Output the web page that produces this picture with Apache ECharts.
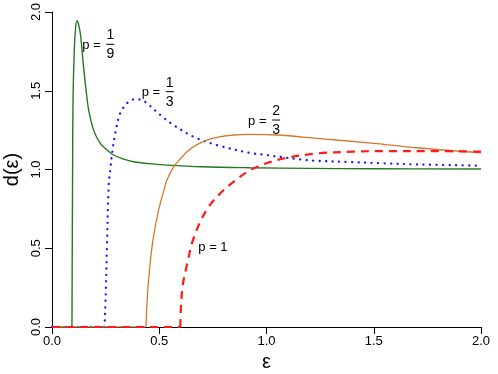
<!DOCTYPE html>
<html lang="en">
<head>
    <meta charset="UTF-8">
    <title>d(eps)</title>
    <script src="https://cdn.jsdelivr.net/npm/echarts@6/dist/echarts.min.js"></script>
    <style>
        html, body { margin: 0; padding: 0; background: #fff; }
        #container { width: 498px; height: 374px; }
    </style>
</head>
<body>
<div id="container"></div>
<script type="text/javascript">
    // curves, [epsilon, d]; each one sits at d = 0 up to its start value
    var start19 = 0.093, start13 = 0.245, start23 = 0.438, start1 = 0.598;
    var p19 = [[0.093, 0], [0.096, 1.0], [0.098, 1.44], [0.104, 1.76], [0.110, 1.90], [0.116, 1.945],
        [0.122, 1.93], [0.132, 1.865], [0.147, 1.653], [0.160, 1.49], [0.171, 1.378], [0.194, 1.25],
        [0.225, 1.166], [0.260, 1.12], [0.287, 1.092], [0.330, 1.068], [0.380, 1.049], [0.450, 1.037],
        [0.536, 1.028], [0.700, 1.017], [0.924, 1.011], [1.2, 1.007], [1.5, 1.005], [2.0, 1.003]];
    var p13 = [[0.245, 0], [0.250, 0.19], [0.256, 0.51], [0.264, 0.89], [0.272, 1.0], [0.280, 1.10],
        [0.295, 1.23], [0.318, 1.357], [0.349, 1.42], [0.375, 1.443], [0.395, 1.447], [0.420, 1.44],
        [0.443, 1.42], [0.505, 1.346], [0.567, 1.282], [0.660, 1.208], [0.769, 1.155], [0.924, 1.105],
        [1.002, 1.092], [1.079, 1.077], [1.157, 1.064], [1.235, 1.055], [1.39, 1.047], [1.545, 1.039],
        [1.70, 1.032], [2.0, 1.024]];
    var p23 = [[0.438, 0], [0.442, 0.127], [0.447, 0.24], [0.453, 0.339], [0.462, 0.46], [0.473, 0.572],
        [0.497, 0.742], [0.520, 0.86], [0.536, 0.933], [0.567, 1.017], [0.600, 1.07], [0.629, 1.113],
        [0.672, 1.155], [0.722, 1.187], [0.780, 1.207], [0.846, 1.219], [0.924, 1.223], [1.048, 1.219],
        [1.235, 1.198], [1.5, 1.166], [1.7, 1.138], [2.0, 1.106]];
    var p1 = [[0.598, 0], [0.602, 0.15], [0.610, 0.27], [0.625, 0.37], [0.637, 0.445], [0.652, 0.53],
        [0.670, 0.60], [0.691, 0.668], [0.730, 0.763], [0.784, 0.848], [0.846, 0.922], [0.924, 0.996],
        [1.0, 1.04], [1.079, 1.07], [1.235, 1.102], [1.4, 1.113], [1.545, 1.117], [1.75, 1.117], [2.0, 1.113]];

    var xTicks = ['0.0', '0.5', '1.0', '1.5', '2.0'];
    var yTicks = ['0.0', '0.5', '1.0', '1.5', '2.0'];

    // curve labels: numerator, denominator (null = plain), anchor in data space
    var labels = [
        {num: '1', den: '9', at: [0.272, 1.795]},
        {num: '1', den: '3', at: [0.549, 1.494]},
        {num: '2', den: '3', at: [1.045, 1.314]},
        {num: '1', den: null, at: [0.682, 0.503]}
    ];

    var font = '"Liberation Sans", Arial, sans-serif';
    var myChart = echarts.init(document.getElementById('container'));

    var styles = [
        {color: '#217a21', type: 'solid', width: 1.4, cap: 'butt'},
        {color: '#1a1aff', type: [0.1, 6.4], width: 2.3, cap: 'round'},
        {color: '#d8772f', type: 'solid', width: 1.3, cap: 'butt'},
        {color: '#ff1a1a', type: [8, 6], width: 2.2, cap: 'butt'}
    ];

    function flat(start, st) {
        return {
            type: 'line', data: [[0, 0], [start, 0]], showSymbol: false, silent: true,
            lineStyle: {color: st.color, type: st.type, width: st.width, cap: st.cap}
        };
    }

    function curve(data, st) {
        return {
            type: 'line', data: data, showSymbol: false, smooth: 0.35,
            lineStyle: {color: st.color, type: st.type, width: st.width, cap: st.cap}
        };
    }

    myChart.setOption({
        animation: false,
        grid: {left: 52, right: 17, top: 12, bottom: 47, outerBoundsMode: 'none', containLabel: false},
        xAxis: {
            type: 'value', min: 0, max: 2, interval: 0.5,
            name: 'ε', nameLocation: 'middle', nameGap: 25,
            nameTextStyle: {fontSize: 20, color: '#000', fontFamily: font},
            axisLine: {onZero: false, lineStyle: {color: '#000', width: 1}},
            axisTick: {length: 7, lineStyle: {color: '#000'}},
            axisLabel: {color: '#000', fontSize: 13, fontFamily: font, margin: 8,
                formatter: function (v) { return xTicks[Math.round(v / 0.5)]; }},
            splitLine: {show: false}
        },
        yAxis: {
            type: 'value', min: 0, max: 2, interval: 0.5,
            name: 'd(ε)', nameLocation: 'middle', nameGap: 30,
            nameTextStyle: {fontSize: 20, color: '#000', fontFamily: font},
            axisLine: {show: true, onZero: false, lineStyle: {color: '#000', width: 1}},
            axisTick: {show: true, length: 7, lineStyle: {color: '#000'}},
            axisLabel: {color: '#000', fontSize: 13, fontFamily: font, rotate: 90, margin: 9,
                formatter: function (v) { return yTicks[Math.round(v / 0.5)]; }},
            splitLine: {show: false}
        },
        series: [
            flat(start19, styles[0]), curve(p19, styles[0]),
            flat(start13, styles[1]), curve(p13, styles[1]),
            flat(start23, styles[2]), curve(p23, styles[2]),
            flat(start1, styles[3]), curve(p1, styles[3])
        ]
    });

    // fraction labels placed through the grid's own scale
    var g = [];
    labels.forEach(function (lb) {
        var c = myChart.convertToPixel({gridIndex: 0}, lb.at);
        if (lb.den === null) {
            g.push({type: 'text', x: c[0], y: c[1], style: {text: 'p = ' + lb.num, font: '13px ' + font,
                fill: '#000', verticalAlign: 'middle', align: 'left'}});
            return;
        }
        g.push({type: 'text', x: c[0] - 6, y: c[1] + 1, style: {text: 'p = ', font: '13px ' + font,
            fill: '#000', verticalAlign: 'middle', align: 'right'}});
        g.push({type: 'line', shape: {x1: c[0] - 4, y1: c[1], x2: c[0] + 4, y2: c[1]},
            style: {stroke: '#000', lineWidth: 1}});
        g.push({type: 'text', x: c[0], y: c[1] - 2, style: {text: lb.num, font: '14px ' + font,
            fill: '#000', verticalAlign: 'bottom', align: 'center'}});
        g.push({type: 'text', x: c[0], y: c[1] + 3, style: {text: lb.den, font: '14px ' + font,
            fill: '#000', verticalAlign: 'top', align: 'center'}});
    });
    myChart.setOption({graphic: g});
</script>
</body>
</html>
